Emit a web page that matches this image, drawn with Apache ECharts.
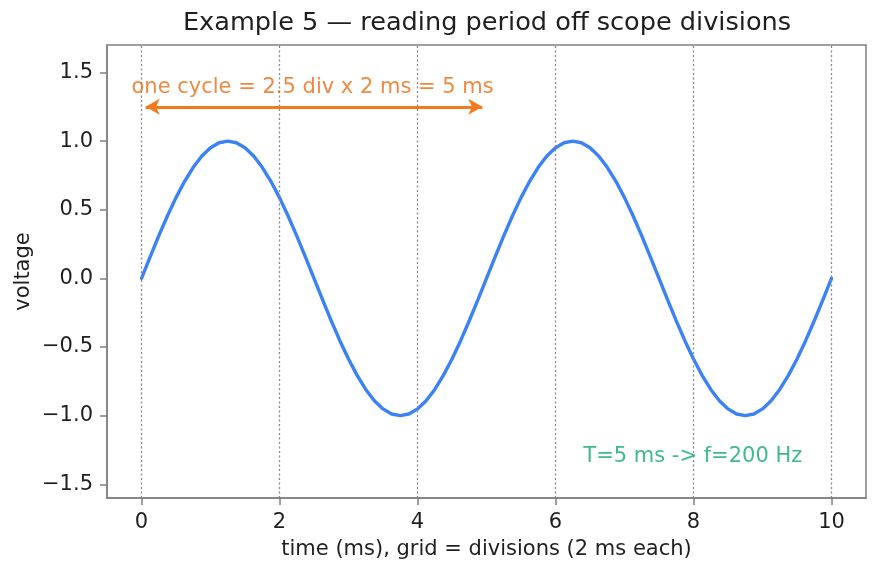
<!DOCTYPE html>
<html>
<head>
<meta charset="utf-8">
<script src="https://cdn.jsdelivr.net/npm/echarts@6/dist/echarts.min.js"></script>
<style>
  html, body { margin: 0; padding: 0; background: #fff; }
  #chart { width: 880px; height: 573px; }
</style>
</head>
<body>
<div id="chart"></div>
<script>
// time axis (ms), sampled every 0.125 ms
const timeMs = [
  0, 0.125, 0.25, 0.375, 0.5, 0.625, 0.75, 0.875, 1, 1.125,
  1.25, 1.375, 1.5, 1.625, 1.75, 1.875, 2, 2.125, 2.25, 2.375,
  2.5, 2.625, 2.75, 2.875, 3, 3.125, 3.25, 3.375, 3.5, 3.625,
  3.75, 3.875, 4, 4.125, 4.25, 4.375, 4.5, 4.625, 4.75, 4.875,
  5, 5.125, 5.25, 5.375, 5.5, 5.625, 5.75, 5.875, 6, 6.125,
  6.25, 6.375, 6.5, 6.625, 6.75, 6.875, 7, 7.125, 7.25, 7.375,
  7.5, 7.625, 7.75, 7.875, 8, 8.125, 8.25, 8.375, 8.5, 8.625,
  8.75, 8.875, 9, 9.125, 9.25, 9.375, 9.5, 9.625, 9.75, 9.875, 10
]
// voltage
const voltage = [
  0, 0.156, 0.309, 0.454, 0.588, 0.707, 0.809, 0.891, 0.951, 0.988,
  1, 0.988, 0.951, 0.891, 0.809, 0.707, 0.588, 0.454, 0.309, 0.156,
  0, -0.156, -0.309, -0.454, -0.588, -0.707, -0.809, -0.891, -0.951, -0.988,
  -1, -0.988, -0.951, -0.891, -0.809, -0.707, -0.588, -0.454, -0.309, -0.156,
  0, 0.156, 0.309, 0.454, 0.588, 0.707, 0.809, 0.891, 0.951, 0.988,
  1, 0.988, 0.951, 0.891, 0.809, 0.707, 0.588, 0.454, 0.309, 0.156,
  0, -0.156, -0.309, -0.454, -0.588, -0.707, -0.809, -0.891, -0.951, -0.988,
  -1, -0.988, -0.951, -0.891, -0.809, -0.707, -0.588, -0.454, -0.309, -0.156, 0
]
const xTicks = [0, 2, 4, 6, 8, 10]
const yTicks = [-1.5, -1, -0.5, 0, 0.5, 1, 1.5]

// annotations
const cycleArrow = [[0.06, 1.25], [4.94, 1.25]]
const cycleText = 'one cycle = 2.5 div x 2 ms = 5 ms'
const cycleTextPos = [2.48, 1.39]
const freqText = 'T=5 ms -> f=200 Hz'
const freqTextPos = [7.99, -1.3]

const FONT = 'DejaVu Sans'
const spine = '#808080'
const ink = '#1f1f1f'

const chart = echarts.init(document.getElementById('chart'), null, { renderer: 'canvas' })

const fmt = (v) => {
    const s = (Math.round(v * 10) / 10).toFixed(1)
    return s.replace('-', '\u2212')
}

const option = {
    animation: false,
    backgroundColor: '#fff',
    title: {
        text: 'Example 5 \u2014 reading period off scope divisions',
        left: 487,
        top: 10,
        textAlign: 'center',
        padding: 0,
        textStyle: {
            fontFamily: FONT,
            fontSize: 25.6,
            fontWeight: 'normal',
            color: ink
        }
    },
    grid: {
        left: 107,
        right: 14,
        top: 45,
        bottom: 75,
        show: true,
        borderColor: spine,
        borderWidth: 1.5,
        backgroundColor: 'transparent'
    },
    xAxis: {
        type: 'value',
        min: -0.5,
        max: 10.5,
        name: 'time (ms), grid = divisions (2 ms each)',
        nameLocation: 'middle',
        nameGap: 41,
        nameMoveOverlap: false,
        nameTextStyle: { fontFamily: FONT, fontSize: 21, color: ink },
        axisLine: { show: true, onZero: false, lineStyle: { color: spine, width: 1.5 } },
        axisTick: {
            show: true,
            length: 7,
            customValues: xTicks,
            lineStyle: { color: spine, width: 1.5 }
        },
        axisLabel: {
            customValues: xTicks,
            margin: 14,
            fontFamily: FONT,
            fontSize: 21,
            color: ink,
            formatter: (v) => String(v)
        },
        splitLine: { show: false }
    },
    yAxis: {
        type: 'value',
        min: -1.6,
        max: 1.7,
        name: 'voltage',
        nameLocation: 'middle',
        nameGap: 73,
        nameMoveOverlap: false,
        nameRotate: 90,
        nameTextStyle: { fontFamily: FONT, fontSize: 21, color: ink },
        axisLine: { show: true, onZero: false, lineStyle: { color: spine, width: 1.5 } },
        axisTick: {
            show: true,
            length: 7,
            customValues: yTicks,
            lineStyle: { color: spine, width: 1.5 }
        },
        axisLabel: {
            customValues: yTicks,
            margin: 14,
            fontFamily: FONT,
            fontSize: 21,
            color: ink,
            formatter: fmt
        },
        splitLine: { show: false }
    },
    series: [
        {
            // scope division lines
            type: 'line',
            data: [],
            silent: true,
            markLine: {
                silent: true,
                symbol: 'none',
                label: { show: false },
                lineStyle: { color: '#888', width: 1.3, type: [2, 2.5] },
                data: xTicks.map((x) => ({ xAxis: x }))
            }
        },
        {
            type: 'line',
            data: timeMs.map((t, i) => [t, voltage[i]]),
            showSymbol: false,
            lineStyle: { color: '#3b82f6', width: 3.4, join: 'round', cap: 'round' },
            itemStyle: { color: '#3b82f6' },
            z: 3
        },
        {
            // period arrow
            type: 'line',
            data: [],
            silent: true,
            markLine: {
                silent: true,
                symbol: ['arrow', 'arrow'],
                symbolSize: [12, 14],
                label: { show: false },
                lineStyle: { color: '#f47a1f', width: 3, type: 'solid' },
                data: [[{ coord: cycleArrow[0] }, { coord: cycleArrow[1] }]]
            },
            z: 4
        },
        {
            type: 'scatter',
            silent: true,
            symbolSize: 0,
            data: [
                { value: cycleTextPos, text: cycleText, label: { color: '#e86c12' } },
                { value: freqTextPos, text: freqText, label: { color: '#0fa874' } }
            ],
            label: {
                show: true,
                position: 'inside',
                fontFamily: FONT,
                fontSize: 21,
                formatter: (p) => p.data.text
            },
            labelLayout: { hideOverlap: false },
            z: 5
        }
    ]
}

chart.setOption(option)
</script>
</body>
</html>
